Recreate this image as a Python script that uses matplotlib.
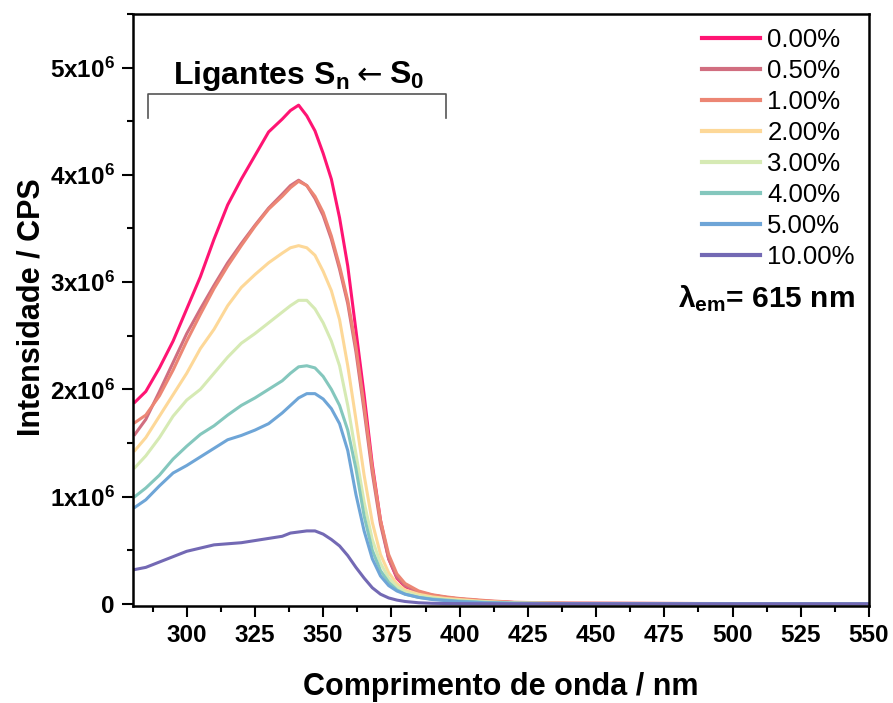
import matplotlib
matplotlib.use("Agg")
import matplotlib.pyplot as plt
from matplotlib.ticker import MultipleLocator

plt.rcParams['font.family'] = ['Liberation Sans', 'DejaVu Sans']
plt.rcParams['mathtext.fontset'] = 'custom'
plt.rcParams['mathtext.rm'] = 'Liberation Sans:bold'
plt.rcParams['mathtext.it'] = 'Liberation Sans:bold'
plt.rcParams['mathtext.bf'] = 'Liberation Sans:bold'

# wavelength grid (nm)
wavelength = [281, 285, 290, 295, 300, 305, 310, 315, 320, 325, 330, 335, 338, 341, 344, 347,
              350, 353, 356, 359, 362, 365, 368, 371, 374, 377, 380, 385, 390, 395, 400, 410,
              420, 440, 550]

# intensities in units of 1e6 CPS
c000 = [1.88, 1.98, 2.20, 2.45, 2.75, 3.05, 3.40, 3.72, 3.96, 4.18, 4.40, 4.52, 4.60, 4.65, 4.55, 4.41,
        4.20, 3.96, 3.60, 3.15, 2.55, 1.95, 1.30, 0.78, 0.42, 0.24, 0.16, 0.11, 0.08, 0.06, 0.045, 0.025,
        0.012, 0.005, 0.0]
c050 = [1.58, 1.72, 1.98, 2.25, 2.52, 2.75, 2.97, 3.18, 3.36, 3.53, 3.69, 3.82, 3.90, 3.95, 3.90, 3.78,
        3.62, 3.40, 3.12, 2.80, 2.35, 1.80, 1.22, 0.74, 0.42, 0.25, 0.17, 0.11, 0.08, 0.06, 0.045, 0.025,
        0.012, 0.005, 0.0]
c100 = [1.69, 1.76, 1.94, 2.18, 2.45, 2.70, 2.94, 3.15, 3.34, 3.52, 3.68, 3.80, 3.88, 3.94, 3.90, 3.80,
        3.65, 3.43, 3.15, 2.83, 2.40, 1.85, 1.27, 0.78, 0.46, 0.28, 0.19, 0.12, 0.085, 0.065, 0.05, 0.03,
        0.015, 0.006, 0.0]
c200 = [1.43, 1.55, 1.75, 1.95, 2.15, 2.38, 2.56, 2.78, 2.95, 3.07, 3.18, 3.27, 3.32, 3.34, 3.32, 3.25,
        3.10, 2.92, 2.65, 2.22, 1.72, 1.20, 0.76, 0.46, 0.29, 0.19, 0.13, 0.09, 0.065, 0.05, 0.04, 0.02,
        0.01, 0.004, 0.0]
c300 = [1.27, 1.38, 1.55, 1.75, 1.90, 2.00, 2.15, 2.30, 2.43, 2.52, 2.62, 2.72, 2.78, 2.83, 2.83, 2.75,
        2.62, 2.45, 2.22, 1.85, 1.40, 0.95, 0.60, 0.38, 0.24, 0.16, 0.11, 0.075, 0.055, 0.04, 0.03, 0.017,
        0.008, 0.003, 0.0]
c400 = [1.00, 1.08, 1.20, 1.35, 1.47, 1.58, 1.66, 1.76, 1.85, 1.92, 2.00, 2.08, 2.15, 2.21, 2.22, 2.20,
        2.12, 2.00, 1.85, 1.62, 1.26, 0.82, 0.50, 0.31, 0.20, 0.13, 0.09, 0.06, 0.045, 0.035, 0.025, 0.013,
        0.006, 0.002, 0.0]
c500 = [0.90, 0.97, 1.10, 1.22, 1.29, 1.37, 1.45, 1.53, 1.57, 1.62, 1.68, 1.78, 1.85, 1.92, 1.96, 1.96,
        1.91, 1.82, 1.68, 1.43, 1.02, 0.68, 0.42, 0.26, 0.17, 0.12, 0.09, 0.06, 0.04, 0.03, 0.02, 0.01,
        0.005, 0.002, 0.0]
c1000 = [0.32, 0.34, 0.39, 0.44, 0.49, 0.52, 0.55, 0.56, 0.57, 0.59, 0.61, 0.63, 0.66, 0.67, 0.68, 0.68,
         0.65, 0.60, 0.54, 0.45, 0.34, 0.24, 0.15, 0.09, 0.055, 0.035, 0.022, 0.01, 0.005, 0.003, 0.002, 0.001,
         0.0, 0.0, 0.0]

labels = ['0.00%', '0.50%', '1.00%', '2.00%', '3.00%', '4.00%', '5.00%', '10.00%']
series = [c000, c050, c100, c200, c300, c400, c500, c1000]
colors = ['#ff1473', '#d16e80', '#ec8674', '#fdd898', '#d6eab4', '#84c7bd', '#6ea5d7', '#7369b4']

ytick_vals = [0, 1, 2, 3, 4, 5]
ytick_labels = ['0', '1x10$^{6}$', '2x10$^{6}$', '3x10$^{6}$', '4x10$^{6}$', '5x10$^{6}$']
xtick_vals = [300, 325, 350, 375, 400, 425, 450, 475, 500, 525, 550]

fig = plt.figure(figsize=(8.93, 7.03), dpi=100)
ax = fig.add_axes([0.1489, 0.138, 0.8242, 0.8421])

for vals, lab, col in zip(series, labels, colors):
    ax.plot(wavelength, [v * 1e6 for v in vals], color=col, lw=2.2, label=lab)

ax.set_xlim(280.3, 550)
ax.set_ylim(-0.02e6, 5.5e6)
ax.set_xticks(xtick_vals)
ax.set_yticks([v * 1e6 for v in ytick_vals])
ax.set_yticklabels(ytick_labels)
ax.xaxis.set_minor_locator(MultipleLocator(12.5))
ax.yaxis.set_minor_locator(MultipleLocator(0.5e6))

for s in ax.spines.values():
    s.set_linewidth(1.8)
ax.tick_params(which='major', direction='out', length=8, width=1.5, labelsize=17.5, pad=5)
ax.tick_params(which='minor', direction='out', length=4.5, width=1.5)
for t in ax.get_xticklabels() + ax.get_yticklabels():
    t.set_fontweight('bold')

ax.set_xlabel('Comprimento de onda / nm', fontsize=22, fontweight='bold')
ax.set_ylabel('Intensidade / CPS', fontsize=22, fontweight='bold')
ax.xaxis.set_label_coords(0.5, -0.112)
ax.yaxis.set_label_coords(-0.118, 0.505)

# bracket annotation
ax.plot([285.7, 285.7, 395.0, 395.0], [4.53e6, 4.75e6, 4.75e6, 4.53e6], color='#555555', lw=1.2)
ax.text(359.5, 4.85e6, 'Ligantes S$_{\\mathrm{n}}$', ha='right', va='baseline',
        fontsize=23, fontweight='bold')
ax.text(366.8, 4.85e6, '\u2190', ha='center', va='baseline', fontsize=22,
        family=['DejaVu Sans'])
ax.text(374.3, 4.85e6, 'S$_{0}$', ha='left', va='baseline', fontsize=23, fontweight='bold')

leg = ax.legend(loc='upper right', frameon=False, fontsize=18.5, handlelength=2.26,
                handletextpad=0.27, labelspacing=0.27, borderpad=0.1, borderaxespad=0.45)
for l in leg.get_lines():
    l.set_linewidth(3)

ax.text(0.981, 0.52, 'λ$_{\\mathrm{em}}$= 615 nm', transform=ax.transAxes, ha='right', va='center',
        fontsize=21.5, fontweight='bold')

fig.savefig('out.png', dpi=100)
